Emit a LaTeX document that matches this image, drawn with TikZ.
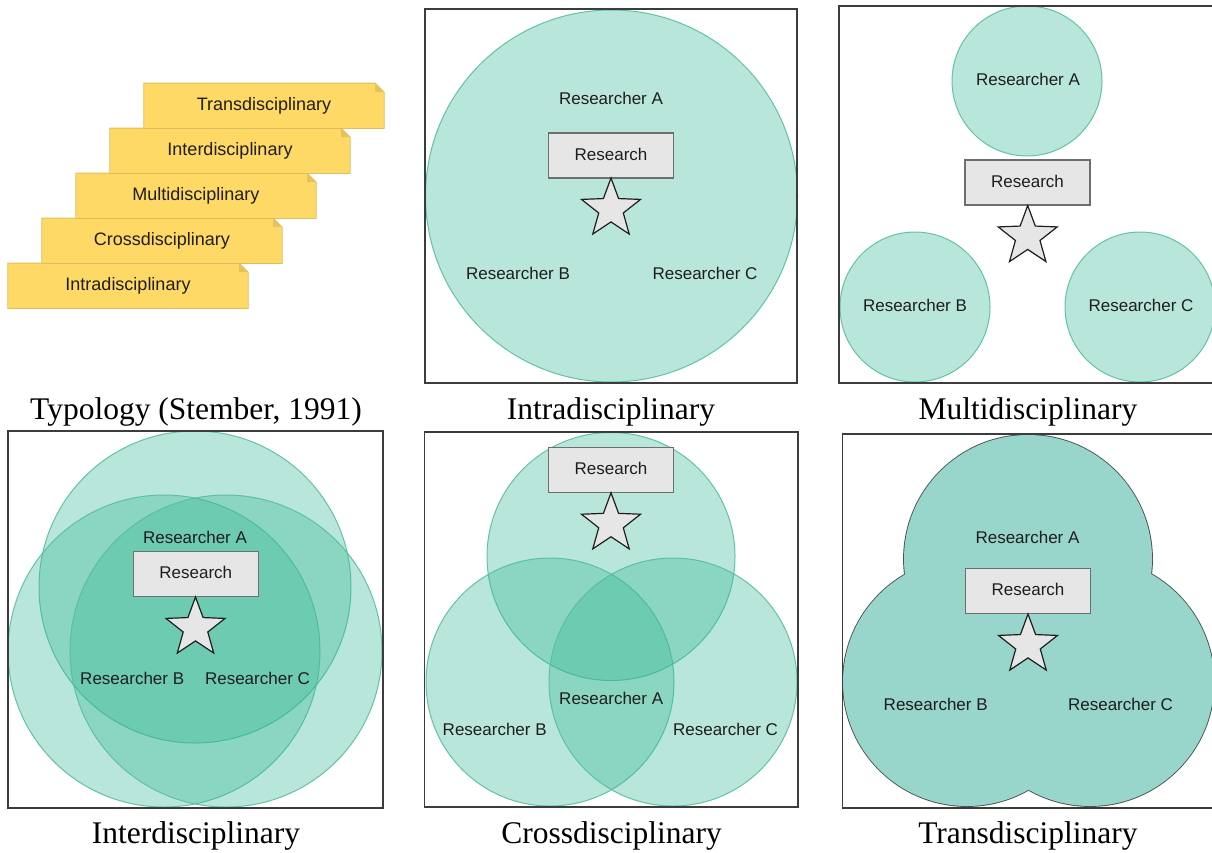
\documentclass[tikz,border=0pt]{standalone}
\usepackage{fontspec}
\setmainfont{Liberation Serif}
\newfontfamily\labelfont{Liberation Sans}
\usetikzlibrary{shapes.geometric}
\pgfdeclarelayer{background}
\pgfsetlayers{background,main}

\definecolor{tealfill}{RGB}{50,182,146}
\definecolor{tealedge}{RGB}{86,190,158}
\definecolor{transfill}{RGB}{152,213,202}
\definecolor{transedge}{RGB}{72,82,82}
\definecolor{notefill}{RGB}{255,217,102}
\definecolor{noteedge}{RGB}{222,190,95}
\definecolor{notefold}{RGB}{228,194,92}
\definecolor{framecol}{RGB}{60,60,60}
\definecolor{boxfill}{RGB}{230,230,230}
\definecolor{boxedge}{RGB}{110,110,110}
\definecolor{ink}{RGB}{30,30,30}

\tikzset{
  panel/.style={draw=framecol, line width=1.6pt},
  disc/.style={circle, inner sep=0pt, outer sep=0pt, minimum size=#1,
    fill=tealfill, fill opacity=0.34, draw=tealedge, draw opacity=0.9, line width=1pt},
  transring/.style={circle, inner sep=0pt, minimum size=248pt, draw=transedge, line width=1.8pt},
  transdisc/.style={circle, inner sep=0pt, minimum size=248pt, fill=transfill},
  resbox/.style={rectangle, draw=boxedge, fill=boxfill, line width=1.3pt,
    minimum width=125pt, minimum height=45pt, inner sep=0pt, text=ink,
    font=\labelfont\fontsize{17}{17}\selectfont, text height=12.2pt, text depth=3.2pt},
  who/.style={inner sep=0pt, text=ink, font=\labelfont\fontsize{17}{17}\selectfont,
    text height=12.2pt, text depth=3.2pt},
  starmark/.style={star, star points=5, star point ratio=2.4, minimum size=62pt,
    inner sep=0pt, draw=ink, fill=boxfill, line width=1.2pt},
  caption/.style={anchor=base, inner sep=0pt, text=black, font=\fontsize{31.5}{31.5}\selectfont},
  note/.style={minimum width=240pt, minimum height=45pt, inner sep=0pt, text=ink,
    font=\labelfont\fontsize{18}{18}\selectfont, text height=13.1pt, text depth=3.5pt},
  notebody/.style={fill=notefill, draw=noteedge, line width=0.8pt},
}

\begin{document}
\begin{tikzpicture}[x=1pt, y=-1pt]
\useasboundingbox (0,0) rectangle (1212,852);
\clip (0,0) rectangle (1212,852);

% ---------- Typology: stacked notes ----------
\node[note] (n5) at (128,285.8) {Intradisciplinary};
\node[note] (n4) at (162,240.8) {Crossdisciplinary};
\node[note] (n3) at (196,195.8) {Multidisciplinary};
\node[note] (n2) at (230,150.8) {Interdisciplinary};
\node[note] (n1) at (264,105.8) {Transdisciplinary};
\begin{pgfonlayer}{background}
\foreach \n in {n5,n4,n3,n2,n1}{
  \draw[notebody] (\n.south west) -- (\n.north west) -- ([xshift=-9pt]\n.north east)
    -- ([yshift=-9pt]\n.north east) -- (\n.south east) -- cycle;
  \fill[notefold] ([xshift=-9pt]\n.north east) -- ([xshift=-9pt,yshift=-9pt]\n.north east)
    -- ([yshift=-9pt]\n.north east) -- cycle;
}
\end{pgfonlayer}
\node[caption] (capTyp) at (196,419) {Typology (Stember, 1991)};

% ---------- Intradisciplinary ----------
\node[disc=372pt] (intraA) at (611.5,196) {};
\draw[panel] (425,9) rectangle (797,383);
\node[who] (intraLA) at (611,99.5) {Researcher A};
\node[who] (intraLB) at (518,274.5) {Researcher B};
\node[who] (intraLC) at (705,274.5) {Researcher C};
\node[resbox] (intraR) at (611,155.5) {Research};
\node[starmark] (intraS) at (611,209) {};
\node[caption] (capIntra) at (611,419) {Intradisciplinary};

% ---------- Multidisciplinary ----------
\node[disc=150pt] (multiA) at (1027,81) {};
\node[disc=150pt] (multiB) at (915,307) {};
\node[disc=150pt] (multiC) at (1140,307) {};
\draw[panel] (839,6) rectangle (1220,383);
\node[who] (multiLA) at (1028,81.2) {Researcher A};
\node[who] (multiLB) at (915,306.8) {Researcher B};
\node[who] (multiLC) at (1141,306.8) {Researcher C};
\node[resbox] (multiR) at (1027.5,182.5) {Research};
\node[starmark] (multiS) at (1027.7,236.5) {};
\node[caption] (capMulti) at (1028,419) {Multidisciplinary};

% ---------- Interdisciplinary ----------
\node[disc=312pt] (interA) at (195,587) {};
\node[disc=312pt] (interB) at (164,651) {};
\node[disc=312pt] (interC) at (226,651) {};
\draw[panel] (8,431) rectangle (383,808);
\node[who] (interLA) at (195,538.7) {Researcher A};
\node[who] (interLB) at (132.2,680.2) {Researcher B};
\node[who] (interLC) at (257.5,680.2) {Researcher C};
\node[resbox] (interR) at (195.8,574) {Research};
\node[starmark] (interS) at (195.5,628) {};
\node[caption] (capInter) at (196,843) {Interdisciplinary};

% ---------- Crossdisciplinary ----------
\node[disc=248pt] (crossA) at (611,556.5) {};
\node[disc=248pt] (crossB) at (550,682) {};
\node[disc=248pt] (crossC) at (673,682) {};
\draw[panel] (424.5,432) rectangle (798,807);
\node[who] (crossLA) at (611.2,699.5) {Researcher A};
\node[who] (crossLB) at (494.7,730.5) {Researcher B};
\node[who] (crossLC) at (725.5,730.5) {Researcher C};
\node[resbox] (crossR) at (611,470) {Research};
\node[starmark] (crossS) at (611,523.8) {};
\node[caption] (capCross) at (611.5,843) {Crossdisciplinary};

% ---------- Transdisciplinary: union of three discs ----------
% outlines first, then the fills on top, so only the outer contour stays visible
\node[transring] (transAo) at (1028,559) {};
\node[transring] (transBo) at (967,682) {};
\node[transring] (transCo) at (1090,682) {};
\node[transdisc] (transA) at (1028,559) {};
\node[transdisc] (transB) at (967,682) {};
\node[transdisc] (transC) at (1090,682) {};
\draw[panel] (842.3,434) rectangle (1220,808);
\node[who] (transLA) at (1027.5,539.3) {Researcher A};
\node[who] (transLB) at (935.7,706.2) {Researcher B};
\node[who] (transLC) at (1120.5,706.2) {Researcher C};
\node[resbox] (transR) at (1028,591) {Research};
\node[starmark] (transS) at (1028,645) {};
\node[caption] (capTrans) at (1028,843) {Transdisciplinary};
\end{tikzpicture}
\end{document}
